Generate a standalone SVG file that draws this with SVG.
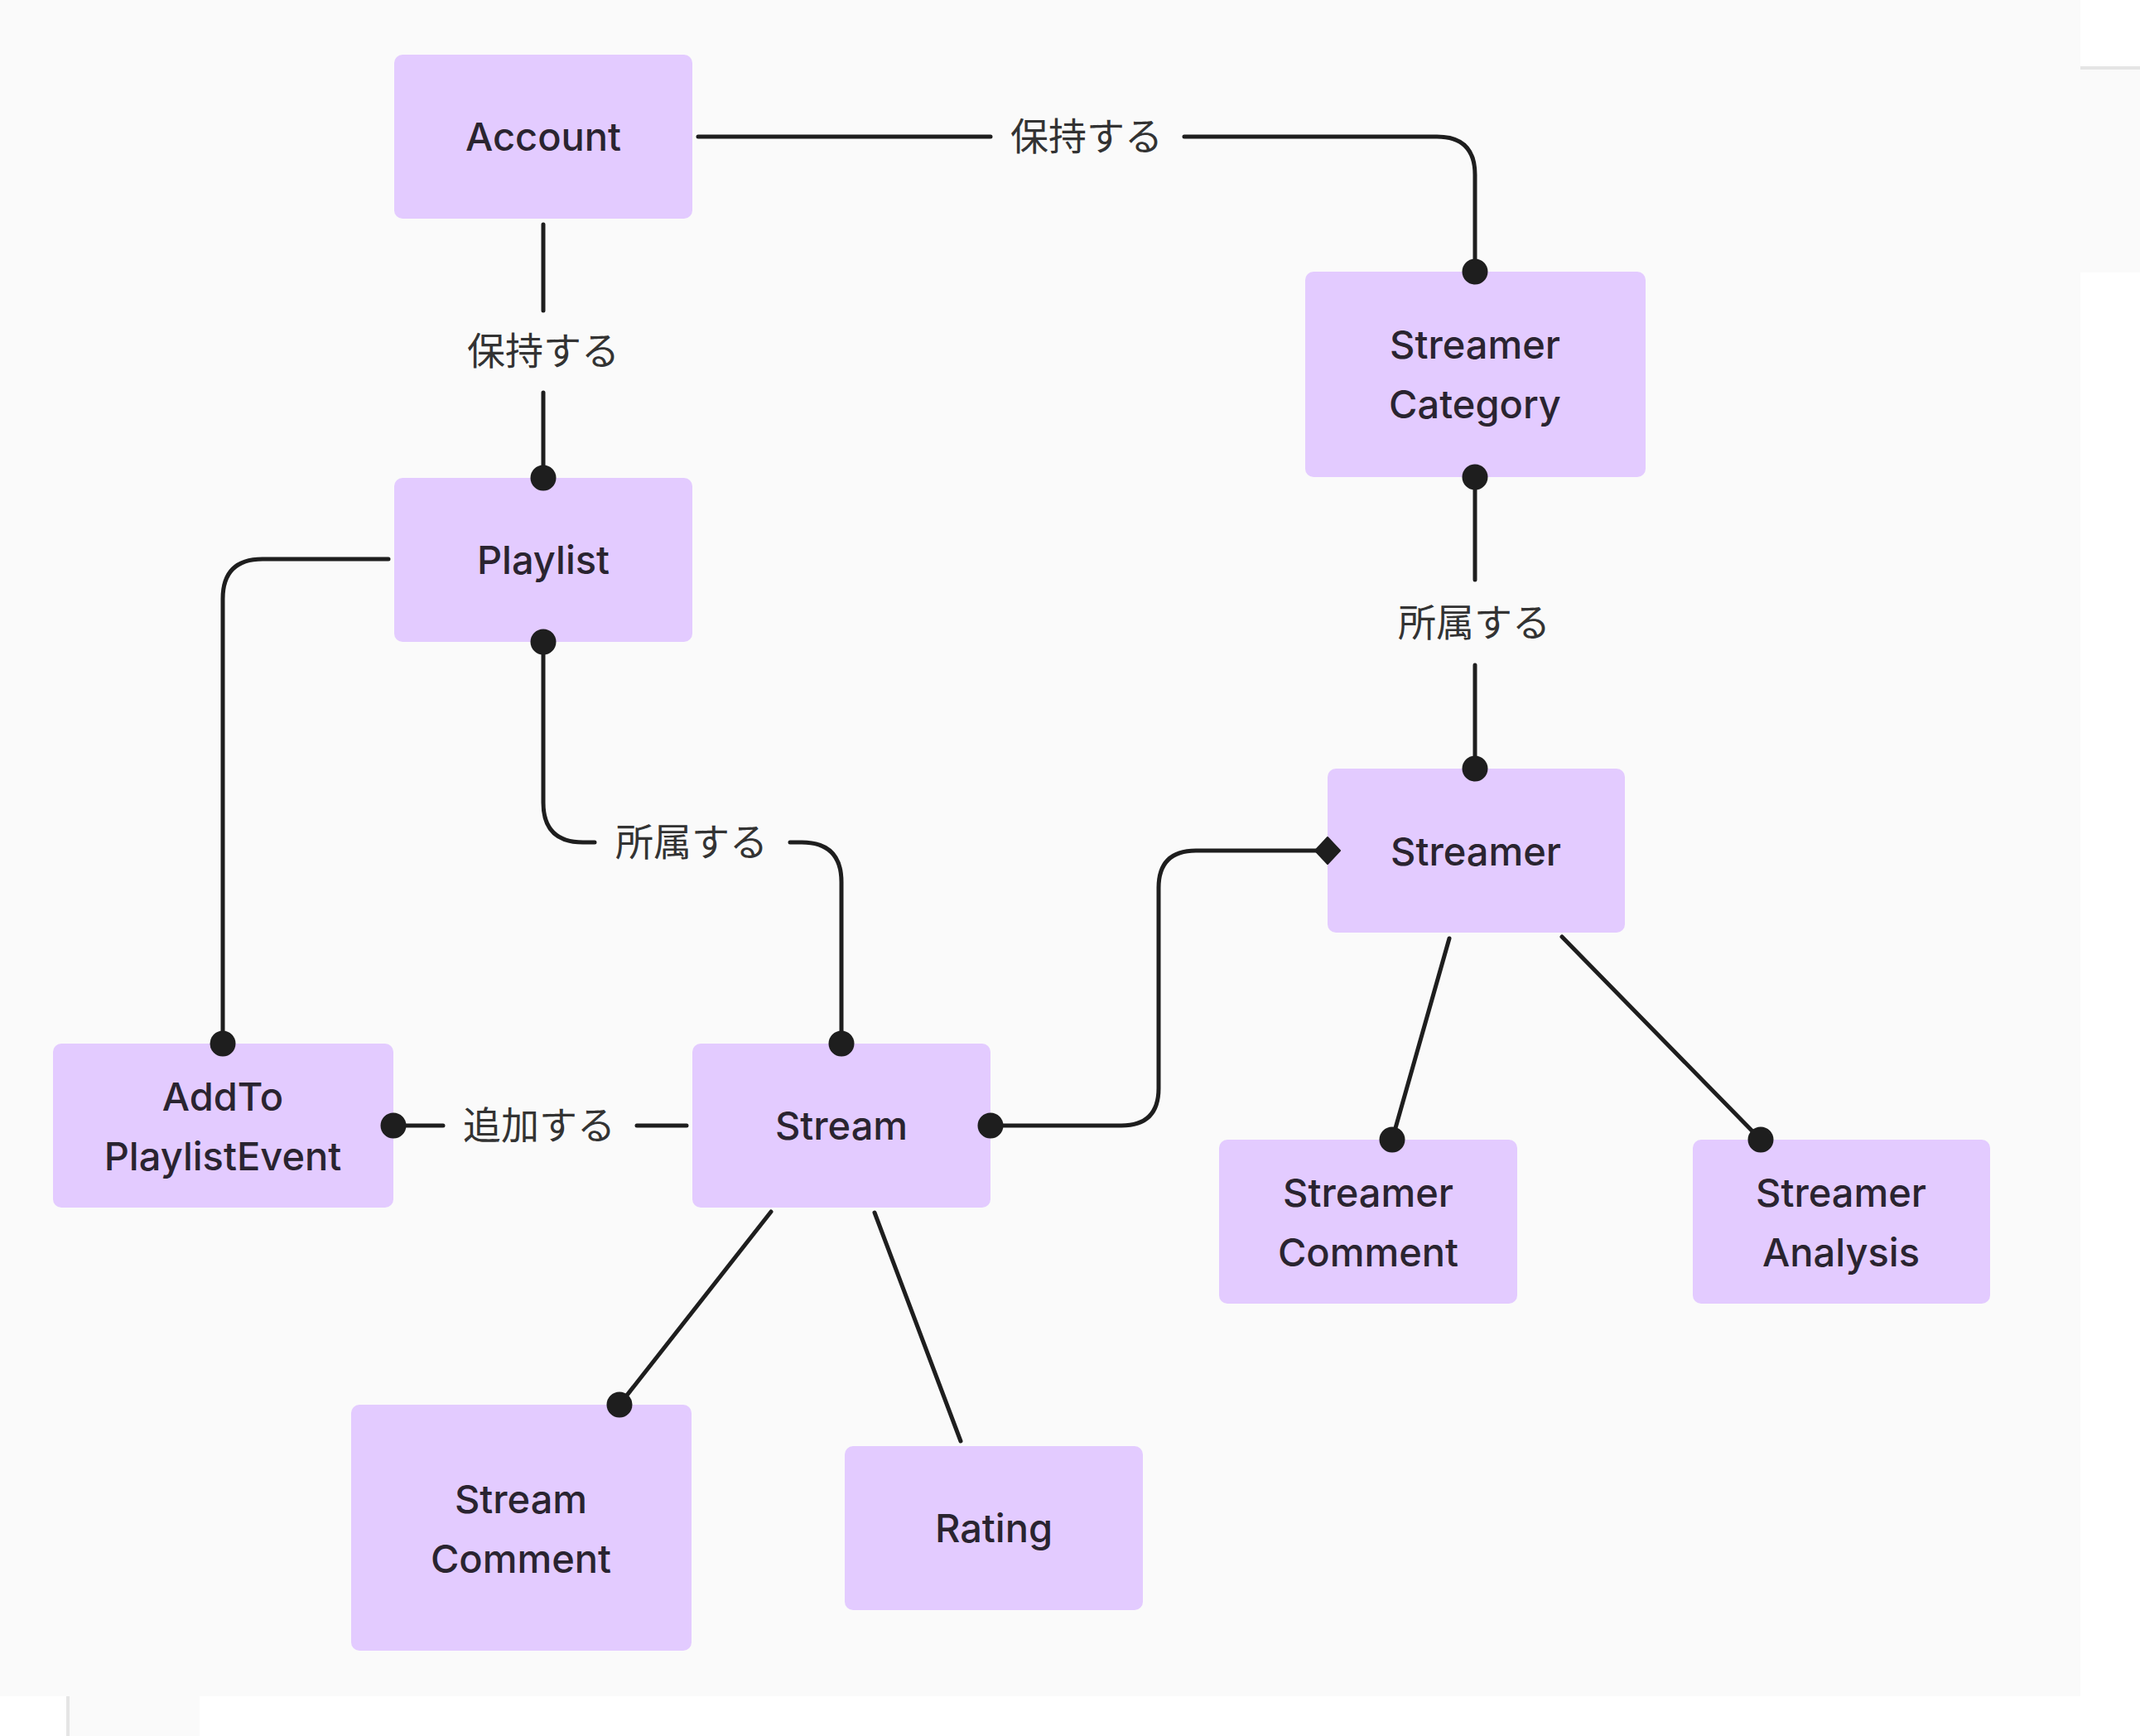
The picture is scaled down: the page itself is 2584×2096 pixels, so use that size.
<svg xmlns="http://www.w3.org/2000/svg" width="2584" height="2096" viewBox="0 0 2584 2096">
<style>
.node rect{fill:#e3cbff;}
.node text{font-family:Inter,"Noto Sans","Liberation Sans",sans-serif;font-size:47px;font-weight:500;fill:#2a2430;text-anchor:middle;}
.edge{fill:none;stroke:#1e1e1e;stroke-width:5;stroke-linecap:round;stroke-linejoin:round;}
.dot{fill:#1e1e1e;}
.lbl{font-family:"Noto Sans CJK JP","Noto Sans",sans-serif;font-size:46px;fill:#333333;text-anchor:middle;}
</style>
<rect x="0" y="0" width="2584" height="2096" fill="#ffffff"/>
<rect x="0" y="0" width="2512" height="2048" fill="#fafafa"/>
<rect x="2512" y="80" width="72" height="4" fill="#e5e5e5"/>
<rect x="2512" y="84" width="72" height="245" fill="#fafafa"/>
<rect x="80" y="2048" width="4" height="48" fill="#e5e5e5"/>
<rect x="84" y="2048" width="157" height="48" fill="#fafafa"/>

<g id="account" class="node">
  <rect x="476" y="66" width="360" height="198" rx="10"/>
  <text x="656" y="182">Account</text>
</g>
<g id="streamer-category" class="node">
  <rect x="1576" y="328" width="411" height="248" rx="10"/>
  <text x="1781" y="433">Streamer</text>
  <text x="1781" y="505">Category</text>
</g>
<g id="playlist" class="node">
  <rect x="476" y="577" width="360" height="198" rx="10"/>
  <text x="656" y="693">Playlist</text>
</g>
<g id="addto-playlist-event" class="node">
  <rect x="64" y="1260" width="411" height="198" rx="10"/>
  <text x="269" y="1341">AddTo</text>
  <text x="269" y="1413">PlaylistEvent</text>
</g>
<g id="stream" class="node">
  <rect x="836" y="1260" width="360" height="198" rx="10"/>
  <text x="1016" y="1376">Stream</text>
</g>
<g id="streamer" class="node">
  <rect x="1603" y="928" width="359" height="198" rx="10"/>
  <text x="1782" y="1045">Streamer</text>
</g>
<g id="streamer-comment" class="node">
  <rect x="1472" y="1376" width="360" height="198" rx="10"/>
  <text x="1652" y="1457">Streamer</text>
  <text x="1652" y="1529">Comment</text>
</g>
<g id="streamer-analysis" class="node">
  <rect x="2044" y="1376" width="359" height="198" rx="10"/>
  <text x="2223" y="1457">Streamer</text>
  <text x="2223" y="1529">Analysis</text>
</g>
<g id="stream-comment" class="node">
  <rect x="424" y="1696" width="411" height="297" rx="10"/>
  <text x="629" y="1827">Stream</text>
  <text x="629" y="1899">Comment</text>
</g>
<g id="rating" class="node">
  <rect x="1020" y="1746" width="360" height="198" rx="10"/>
  <text x="1200" y="1862">Rating</text>
</g>

<g id="connectors">
  <g id="e-account-streamercategory">
    <path class="edge" d="M843,165 H1196 M1430,165 H1735 Q1781,165 1781,211 V328"/>
    <circle class="dot" cx="1781" cy="328" r="15.5"/>
    <text class="lbl" x="1312" y="181">保持する</text>
  </g>
  <g id="e-account-playlist">
    <path class="edge" d="M656,271 V375 M656,474 V577"/>
    <circle class="dot" cx="656" cy="577" r="15.5"/>
    <text class="lbl" x="656" y="440">保持する</text>
  </g>
  <g id="e-playlist-addto">
    <path class="edge" d="M469,675 H317 Q269,675 269,723 V1260"/>
    <circle class="dot" cx="269" cy="1260" r="15.5"/>
  </g>
  <g id="e-playlist-stream">
    <path class="edge" d="M656,775 V969 Q656,1017 704,1017 H718 M954,1017 H968 Q1016,1017 1016,1065 V1260"/>
    <circle class="dot" cx="656" cy="775" r="15.5"/>
    <circle class="dot" cx="1016" cy="1260" r="15.5"/>
    <text class="lbl" x="835" y="1033">所属する</text>
  </g>
  <g id="e-stream-addto">
    <path class="edge" d="M475,1359 H535 M769,1359 H829"/>
    <circle class="dot" cx="475" cy="1359" r="15.5"/>
    <text class="lbl" x="651" y="1375">追加する</text>
  </g>
  <g id="e-stream-streamer">
    <path class="edge" d="M1196,1359 H1354 Q1399,1359 1399,1314 V1072 Q1399,1027 1444,1027 H1592"/>
    <circle class="dot" cx="1196" cy="1359" r="15.5"/>
    <path class="dot" d="M1603,1011 L1618,1027 L1603,1043 L1588,1027 Z" stroke="#1e1e1e" stroke-width="2" stroke-linejoin="round"/>
  </g>
  <g id="e-streamercategory-streamer">
    <path class="edge" d="M1781,576 V700 M1781,803 V928"/>
    <circle class="dot" cx="1781" cy="576" r="15.5"/>
    <circle class="dot" cx="1781" cy="928" r="15.5"/>
    <text class="lbl" x="1780" y="768">所属する</text>
  </g>
  <g id="e-streamer-streamercomment">
    <path class="edge" d="M1750,1133 L1681,1376"/>
    <circle class="dot" cx="1681" cy="1376" r="15.5"/>
  </g>
  <g id="e-streamer-streameranalysis">
    <path class="edge" d="M1886,1131 L2126,1376"/>
    <circle class="dot" cx="2126" cy="1376" r="15.5"/>
  </g>
  <g id="e-stream-streamcomment">
    <path class="edge" d="M931,1463 L748,1696"/>
    <circle class="dot" cx="748" cy="1696" r="15.5"/>
  </g>
  <g id="e-stream-rating">
    <path class="edge" d="M1056,1464 L1160,1740"/>
  </g>
</g>
</svg>
